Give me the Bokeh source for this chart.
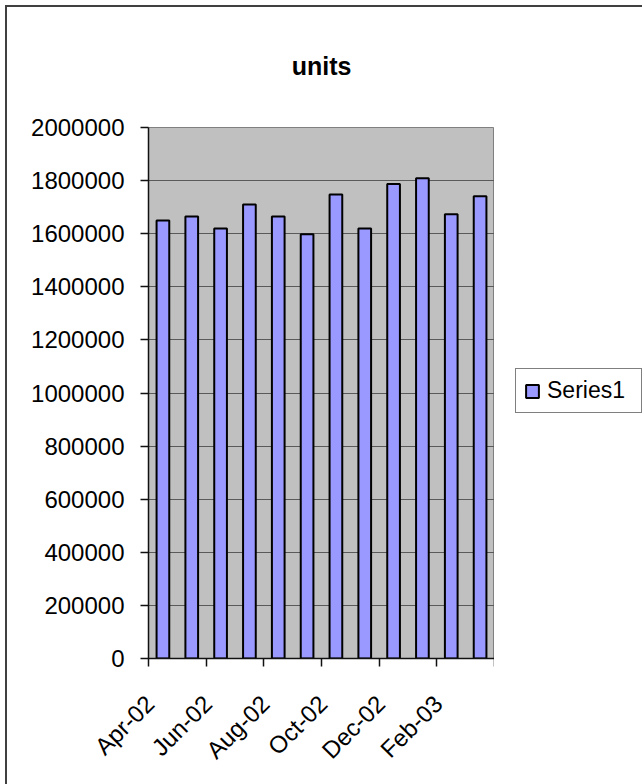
import math

from bokeh.embed import file_html
from bokeh.layouts import row
from bokeh.models import (ColumnDataSource, CustomJSTickFormatter, FixedTicker,
                          NumeralTickFormatter, Range1d)
from bokeh.plotting import figure
from bokeh.resources import INLINE

# Monthly unit counts, Apr-02 .. Mar-03
months = ["Apr-02", "May-02", "Jun-02", "Jul-02", "Aug-02", "Sep-02",
          "Oct-02", "Nov-02", "Dec-02", "Jan-03", "Feb-03", "Mar-03"]
units = [1650000, 1665000, 1620000, 1710000, 1665000, 1598000,
         1748000, 1620000, 1787000, 1809000, 1673000, 1741000]
y_ticks = [0, 200000, 400000, 600000, 800000, 1000000,
           1200000, 1400000, 1600000, 1800000, 2000000]
series_name = "Series1"
chart_title = "units"

FONT = "Liberation Sans"
BORDER = "#404040"
BAR_STYLE = dict(fill_color="#9999FF", line_color="black", line_width=2)

source = ColumnDataSource(data=dict(
    x=list(range(len(months))),
    month=months,
    units=units,
))

# chart-area border lines (top and left), painted behind transparent canvases
chart_area_css = {
    "background-color": "white",
    "background-image": (f"linear-gradient({BORDER}, {BORDER}), "
                         f"linear-gradient({BORDER}, {BORDER})"),
    "background-position": "5px 5px, 5px 5px",
    "background-size": "2px 100%, 100% 2px",
    "background-repeat": "no-repeat, no-repeat",
}

p = figure(
    width=494, height=784,
    output_backend="svg", toolbar_location=None,
    x_range=Range1d(-0.5, len(months) - 0.5),
    y_range=Range1d(y_ticks[0], y_ticks[-1]),
    min_border_left=148, min_border_right=0,
    min_border_top=127, min_border_bottom=126,
    background_fill_color="#C0C0C0",
    border_fill_color=None,
    outline_line_color="#808080", outline_line_width=1,
)

# title
p.title.text = chart_title
p.title.align = "center"
p.title.text_font = FONT
p.title.text_font_style = "bold"
p.title.text_font_size = "25px"
p.title.text_color = "black"
p.title.standoff = 96

p.vbar(x="x", top="units", width=0.44, source=source, **BAR_STYLE)

# y axis
yax = p.yaxis[0]
yax.ticker = FixedTicker(ticks=y_ticks)
yax.formatter = NumeralTickFormatter(format="0")
yax.major_tick_out = 8
yax.major_tick_in = 0
yax.minor_tick_out = 0
yax.minor_tick_in = 0
yax.major_label_standoff = 16
yax.major_label_text_font = FONT
yax.major_label_text_font_size = "24px"
yax.major_label_text_color = "black"
yax.axis_line_color = "#111111"
yax.axis_line_width = 1.5
yax.major_tick_line_color = "#111111"
yax.major_tick_line_width = 1.5

# x axis: labels on every other month, tick marks on category boundaries
label_shift = 0.45
xax = p.xaxis[0]
xax.ticker = FixedTicker(
    ticks=[i - label_shift for i in range(0, len(months), 2)],
    minor_ticks=[i - 0.5 for i in range(0, len(months) + 1, 2)],
)
xax.formatter = CustomJSTickFormatter(
    args=dict(labels=months, shift=label_shift),
    code="return labels[Math.round(tick + shift)] || ''",
)
xax.major_tick_out = 0
xax.major_tick_in = 0
xax.minor_tick_out = 8
xax.minor_tick_in = 0
xax.minor_tick_line_color = "#111111"
xax.minor_tick_line_width = 1.5
xax.axis_line_color = "#111111"
xax.axis_line_width = 1.5
xax.major_label_orientation = math.pi / 4
xax.major_label_standoff = 33
xax.major_label_text_font = FONT
xax.major_label_text_font_size = "24px"
xax.major_label_text_color = "black"

# grid
p.xgrid.visible = False
p.ygrid.ticker = FixedTicker(ticks=y_ticks)
p.ygrid.grid_line_color = "#5A5A5A"
p.ygrid.grid_line_width = 1.2

# legend panel to the right of the plot area; its bar renderer only supplies the key
pl = figure(
    width=148, height=784,
    output_backend="svg", toolbar_location=None,
    x_range=Range1d(-0.5, len(months) - 0.5),
    y_range=Range1d(y_ticks[0], y_ticks[-1]),
    x_axis_location=None, y_axis_location=None,
    min_border=0,
    background_fill_color=None, border_fill_color=None,
    outline_line_color=None,
)
pl.title.visible = False
pl.grid.visible = False
key = pl.vbar(x="x", top="units", width=0.44, source=source,
              legend_label=series_name, **BAR_STYLE)
key.visible = False

lg = pl.legend[0]
lg.location = (21, 245)
lg.border_line_color = "black"
lg.border_line_width = 1
lg.background_fill_color = "white"
lg.background_fill_alpha = 1
lg.padding = 8
lg.margin = 0
lg.glyph_width = 16
lg.glyph_height = 16
lg.label_standoff = 7
lg.label_width = 86
lg.label_text_font = FONT
lg.label_text_font_size = "23px"
lg.label_text_color = "black"

layout = row(p, pl, spacing=0, styles=chart_area_css)

open("out.html", "w").write(file_html(layout, INLINE))
